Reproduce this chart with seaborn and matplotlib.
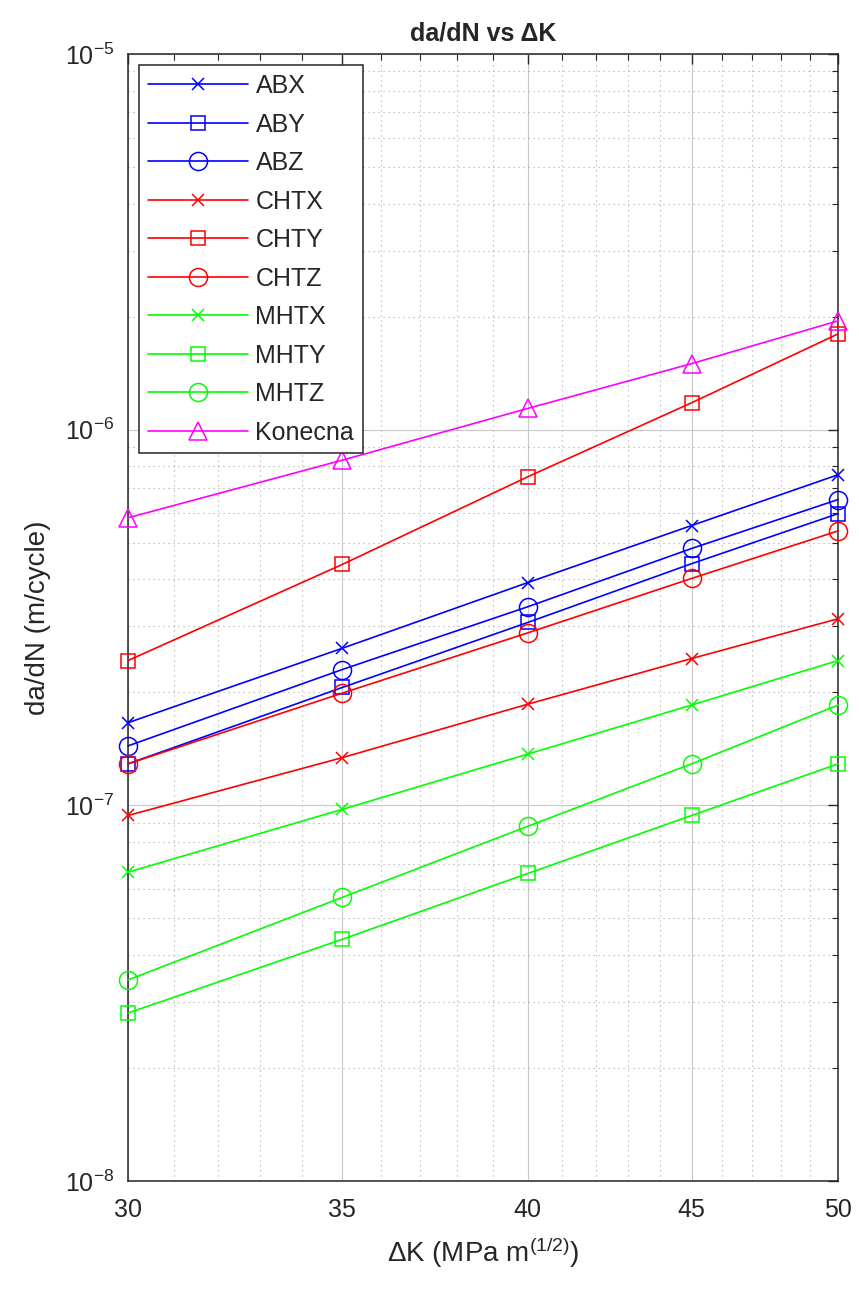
import numpy as np
import pandas as pd
import matplotlib
matplotlib.use('Agg')
import matplotlib.pyplot as plt
import seaborn as sns
from matplotlib.ticker import FixedLocator, NullFormatter, LogLocator

delta_k = [30, 35, 40, 45, 50]

abx = [1.66e-7, 2.62e-7, 3.92e-7, 5.56e-7, 7.59e-7]
aby = [1.29e-7, 2.06e-7, 3.07e-7, 4.40e-7, 5.98e-7]
abz = [1.44e-7, 2.30e-7, 3.38e-7, 4.83e-7, 6.52e-7]
chtx = [9.4e-8, 1.34e-7, 1.86e-7, 2.46e-7, 3.14e-7]
chty = [2.43e-7, 4.38e-7, 7.5e-7, 1.18e-6, 1.80e-6]
chtz = [1.29e-7, 1.99e-7, 2.88e-7, 4.02e-7, 5.38e-7]
mhtx = [6.64e-8, 9.76e-8, 1.37e-7, 1.85e-7, 2.43e-7]
mhty = [2.80e-8, 4.40e-8, 6.59e-8, 9.4e-8, 1.29e-7]
mhtz = [3.43e-8, 5.69e-8, 8.8e-8, 1.29e-7, 1.85e-7]
konecna = [5.83e-7, 8.3e-7, 1.14e-6, 1.50e-6, 1.95e-6]

labels = ['ABX', 'ABY', 'ABZ', 'CHTX', 'CHTY', 'CHTZ', 'MHTX', 'MHTY', 'MHTZ', 'Konecna']
series = [abx, aby, abz, chtx, chty, chtz, mhtx, mhty, mhtz, konecna]

# style per series (colour, marker)
colors = ['#0000ff'] * 3 + ['#ff0000'] * 3 + ['#00ff00'] * 3 + ['#ff00ff']
markers = ['x', 's', 'o'] * 3 + ['^']
msize = {'x': 9, 's': 10, 'o': 13, '^': 13}

df = pd.DataFrame({
    'dK': np.tile(delta_k, len(labels)),
    'dadN': np.concatenate(series),
    'name': np.repeat(labels, len(delta_k)),
})

sns.set_style('white')
plt.rcParams['font.family'] = ['Liberation Sans', 'DejaVu Sans']
plt.rcParams['mathtext.fontset'] = 'custom'
plt.rcParams['mathtext.rm'] = 'Liberation Sans'
plt.rcParams['mathtext.it'] = 'Liberation Sans'

fig = plt.figure(figsize=(8.59, 12.9), dpi=100)
ax = fig.add_axes([0.149, 0.0845, 0.8266, 0.8735])

for lab, c, m in zip(labels, colors, markers):
    sub = df[df['name'] == lab]
    sns.lineplot(data=sub, x='dK', y='dadN', ax=ax, color=c, marker=m,
                 markersize=msize[m], markerfacecolor='none', markeredgecolor=c,
                 markeredgewidth=1.1, linewidth=1.2, label=lab, estimator=None,
                 clip_on=False, zorder=3)

ax.set_xscale('log')
ax.set_yscale('log')
ax.set_xlim(30, 50)
ax.set_ylim(1e-8, 1e-5)

ax.xaxis.set_major_locator(FixedLocator(delta_k))
ax.xaxis.set_minor_locator(FixedLocator(list(range(31, 50))))
ax.xaxis.set_minor_formatter(NullFormatter())
ax.set_xticklabels([str(v) for v in delta_k])
ax.yaxis.set_major_locator(LogLocator(base=10))
ax.yaxis.set_minor_locator(LogLocator(base=10, subs=np.arange(2, 10)))
ax.yaxis.set_minor_formatter(NullFormatter())

ax.grid(True, which='major', color='#c8c8c8', linewidth=0.8, linestyle='-')
ax.grid(True, which='minor', color='#a8a8a8', linewidth=0.8, linestyle=(0, (1, 3.5)))
ax.set_axisbelow(True)

ax.tick_params(which='both', direction='in', top=True, right=True, labelsize=18, colors='#262626')
ax.tick_params(which='major', length=7, width=1)
ax.tick_params(which='minor', length=4, width=0.8)
ax.tick_params(axis='x', pad=12)
ax.tick_params(axis='y', pad=10)
for sp in ax.spines.values():
    sp.set_color('#262626')
    sp.set_linewidth(1.1)

ax.set_xlabel('ΔK (MPa m$^{(1/2)}$)', fontsize=20, color='#262626', labelpad=10)
ax.set_ylabel('da/dN (m/cycle)', fontsize=20, color='#262626', labelpad=10)
ax.set_title('da/dN vs ΔK', fontsize=18, fontweight='bold', color='#262626', pad=10)

leg = ax.legend(loc='upper left', fontsize=18, handlelength=4.0, labelspacing=0.58,
                borderaxespad=0.45, fancybox=False, frameon=True, handletextpad=0.3,
                borderpad=0.35)
leg.get_frame().set_edgecolor('#262626')
leg.get_frame().set_linewidth(1.1)
leg.get_frame().set_alpha(1.0)
leg.set_zorder(5)

fig.savefig('out.png', dpi=100)
